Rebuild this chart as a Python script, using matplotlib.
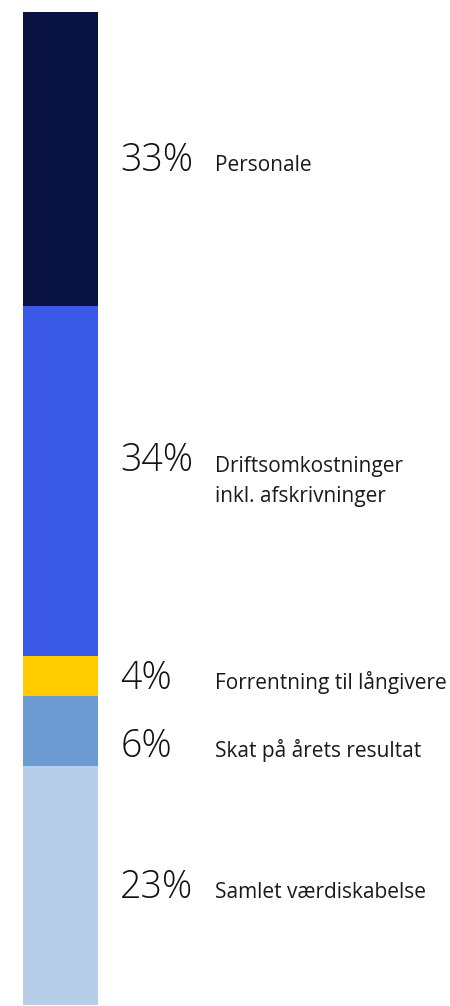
import matplotlib.pyplot as plt

# Data: segment shares (as drawn) and printed labels, top to bottom
kategorier = ["Personale", "Driftsomkostninger\ninkl. afskrivninger",
              "Forrentning til långivere", "Skat på årets resultat",
              "Samlet værdiskabelse"]
andele = [29.6, 35.3, 4.0, 7.0, 24.1]
procent_tekst = ["33%", "34%", "4%", "6%", "23%"]
farver = ["#091342", "#3c5ae8", "#ffcc00", "#6c9bd2", "#b8cde9"]

# small vertical nudge (points) for labels that would otherwise crowd
label_skub = [0, 0, 0, -10, 0]

plt.rcParams['font.family'] = ['Open Sans', 'DejaVu Sans']

fig = plt.figure(figsize=(4.5, 10.06), dpi=100)
ax = fig.add_axes([23 / 450, 1 / 1006, 75 / 450, 993 / 1006])

total = sum(andele)
bund = 0
for v, c, pct, lab, skub in zip(andele, farver, procent_tekst, kategorier, label_skub):
    ax.bar(0, v, bottom=bund, width=1, color=c, align='center')
    midt = bund + v / 2
    n_linjer = lab.count("\n") + 1
    # percent sits on the first line's baseline, label block is centred
    dy_pct = -9 + 16 * (n_linjer - 1) + skub
    dy_lab = -9 - 6 * (n_linjer - 1) + skub
    ax.annotate(pct, xy=(0.5, midt), xycoords=('data', 'data'),
                xytext=(16, dy_pct), textcoords='offset points',
                fontsize=27, fontweight='light', color='#111111',
                ha='left', va='baseline')
    ax.annotate(lab, xy=(0.5, midt), xycoords=('data', 'data'),
                xytext=(84, dy_lab), textcoords='offset points',
                fontsize=15, color='#1a1a1a', ha='left', va='baseline',
                linespacing=1.55, annotation_clip=False)
    bund += v

ax.set_xlim(-0.5, 0.5)
ax.set_ylim(total, 0)
ax.axis('off')

fig.savefig("out.png", dpi=100)
